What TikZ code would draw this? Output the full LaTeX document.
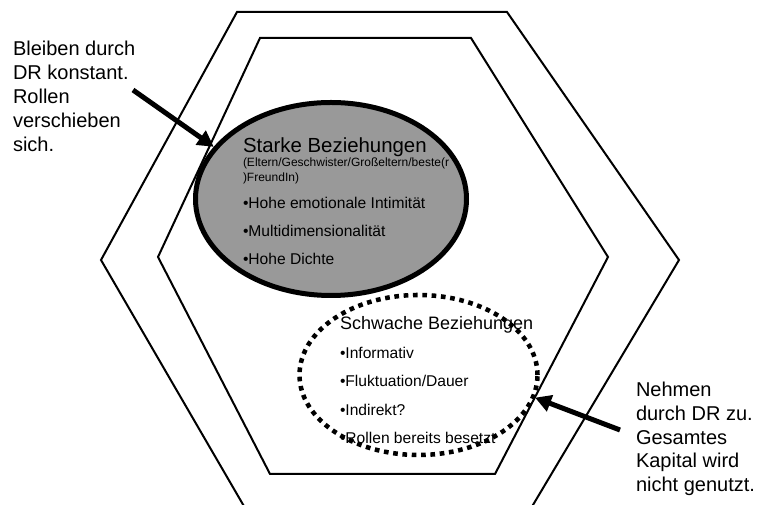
\documentclass[tikz,border=0pt]{standalone}
\usepackage{fontspec}
\setmainfont{Liberation Sans}
\usetikzlibrary{shapes.geometric,arrows.meta}
\definecolor{strongfill}{RGB}{153,153,153}
\begin{document}
\begin{tikzpicture}[x=0.75pt,y=-0.75pt,
  hexline/.style={draw=black,line width=1.5pt,line join=miter},
  strongbox/.style={ellipse,draw=black,fill=strongfill,line width=3.75pt,
    minimum width=203.25pt,minimum height=144.75pt,inner sep=0pt},
  weakbox/.style={ellipse,draw=black,line width=3.4pt,
    dash pattern=on 3.5pt off 3.5pt,
    minimum width=178.5pt,minimum height=120pt,inner sep=0pt},
  txt/.style={anchor=base west,inner sep=0pt,outer sep=0pt,text=black},
  side/.style={txt,font=\fontsize{15}{18}\selectfont},
  bigtitle/.style={txt,font=\fontsize{15.3}{18}\selectfont},
  midtitle/.style={txt,font=\fontsize{13.5}{16}\selectfont},
  smalltxt/.style={txt,font=\fontsize{9}{11}\selectfont},
  bullet/.style={txt,font=\fontsize{11.7}{14}\selectfont},
  bigarrow/.style={draw=black,line width=3.75pt,
    -{Triangle[length=12pt,width=12.5pt]}}]
\useasboundingbox (0,0) rectangle (757,505);

% outer hexagon, running off the bottom edge
\begin{scope}
  \clip (0,0) rectangle (757,505);
  \draw[hexline] (237,12) -- (507,12) -- (679,260) -- (524,520)
    -- (252,520) -- (101,260) -- cycle;
\end{scope}

% inner hexagon
\draw[hexline] (260,38) -- (471,38) -- (608,257) -- (495,474)
  -- (270,474) -- (158,257) -- cycle;

% strong ties
\node[strongbox] (strong) at (331,199) {};
\node[bigtitle] (s0) at (243,153) {Starke Beziehungen};
\node[smalltxt] (s1) at (243,167) {(Eltern/Geschwister/Großeltern/beste(r};
\node[smalltxt] (s2) at (243,182) {)FreundIn)};
\node[bullet] (s3) at (243,209) {•Hohe emotionale Intimität};
\node[bullet] (s4) at (243,237) {•Multidimensionalität};
\node[bullet] (s5) at (243,265) {•Hohe Dichte};

% weak ties
\node[midtitle] (w0) at (340,330) {Schwache Beziehungen};
\node[bullet] (w1) at (340,359) {•Informativ};
\node[bullet] (w2) at (340,387) {•Fluktuation/Dauer};
\node[bullet] (w3) at (340,415.5) {•Indirekt?};
\node[bullet] (w4) at (340,444) {•Rollen bereits besetzt};
\node[weakbox] (weak) at (418.5,375) {};

% left comment
\node[side] (l1) at (13,56) {Bleiben durch};
\node[side] (l2) at (13,80) {DR konstant.};
\node[side] (l3) at (13,104) {Rollen};
\node[side] (l4) at (13,128) {verschieben};
\node[side] (l5) at (13,152) {sich.};

% right comment
\node[side] (r1) at (636,397) {Nehmen};
\node[side] (r2) at (636,421) {durch DR zu.};
\node[side] (r3) at (636,445) {Gesamtes};
\node[side] (r4) at (636,468) {Kapital wird};
\node[side] (r5) at (636,492) {nicht genutzt.};

% arrows
\coordinate (ltail) at (133,90);
\coordinate (rtail) at (620,430);
\draw[bigarrow] (ltail) -- (strong.156);
\draw[bigarrow] (rtail) -- (weak.-11);
\end{tikzpicture}
\end{document}
